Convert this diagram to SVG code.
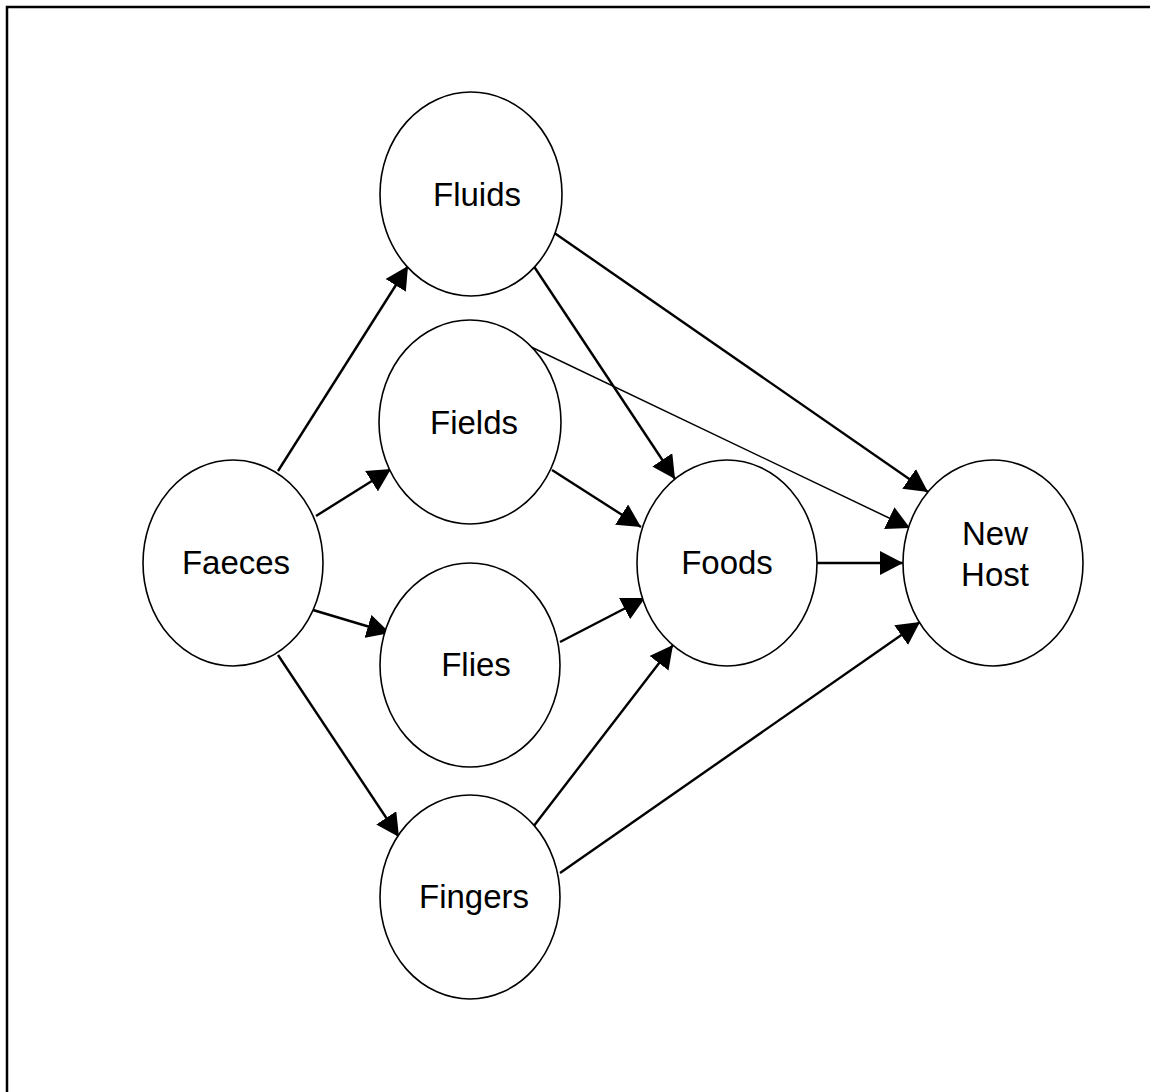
<svg xmlns="http://www.w3.org/2000/svg" width="1150" height="1092" viewBox="0 0 1150 1092">
<style>
.node ellipse{fill:#fff;stroke:#000;stroke-width:1.6}
.node text{font-family:"Liberation Sans",Arial,sans-serif;font-size:33px;fill:#000;text-anchor:middle}
.conn line{stroke:#000;stroke-width:2.4;marker-end:url(#ah)}
.conn line.thin{stroke-width:1.5}
</style>
<defs>
<marker id="ah" markerUnits="userSpaceOnUse" markerWidth="24" markerHeight="24" refX="23" refY="12" orient="auto">
<path d="M0,0 L23,12 L0,24 Z" fill="#000"/>
</marker>
</defs>
<rect width="1150" height="1092" fill="#fff"/>
<path d="M7,1092 L7,7 L1150,7" fill="none" stroke="#000" stroke-width="2.5"/>
<g class="conn">
<line x1="278" y1="471" x2="408" y2="266"/>
<line x1="316" y1="516" x2="391" y2="469"/>
<line x1="313" y1="610" x2="390" y2="633"/>
<line x1="278" y1="655" x2="399" y2="837"/>
<line x1="533" y1="265" x2="675" y2="479"/>
<line x1="553" y1="232" x2="928" y2="492"/>
<line class="thin" x1="527" y1="345" x2="910" y2="528"/>
<line x1="552" y1="470" x2="641" y2="527"/>
<line x1="560" y1="642" x2="645" y2="598"/>
<line x1="533" y1="827" x2="673" y2="645"/>
<line x1="560" y1="873" x2="920" y2="622"/>
<line x1="817" y1="563" x2="903" y2="563"/>
</g>
<g id="faeces" class="node"><ellipse cx="233" cy="563" rx="90" ry="103"/><text x="236" y="574">Faeces</text></g>
<g id="fluids" class="node"><ellipse cx="471" cy="194" rx="91" ry="102"/><text x="477" y="206">Fluids</text></g>
<g id="fields" class="node"><ellipse cx="470" cy="422" rx="91" ry="102"/><text x="474" y="434">Fields</text></g>
<g id="flies" class="node"><ellipse cx="470" cy="665" rx="90" ry="102"/><text x="476" y="676">Flies</text></g>
<g id="fingers" class="node"><ellipse cx="470" cy="897" rx="90" ry="102"/><text x="474" y="908">Fingers</text></g>
<g id="foods" class="node"><ellipse cx="727" cy="563" rx="90" ry="103"/><text x="727" y="574">Foods</text></g>
<g id="newhost" class="node"><ellipse cx="993" cy="563" rx="90" ry="103"/><text x="995" y="545">New</text><text x="995" y="586">Host</text></g>
</svg>
